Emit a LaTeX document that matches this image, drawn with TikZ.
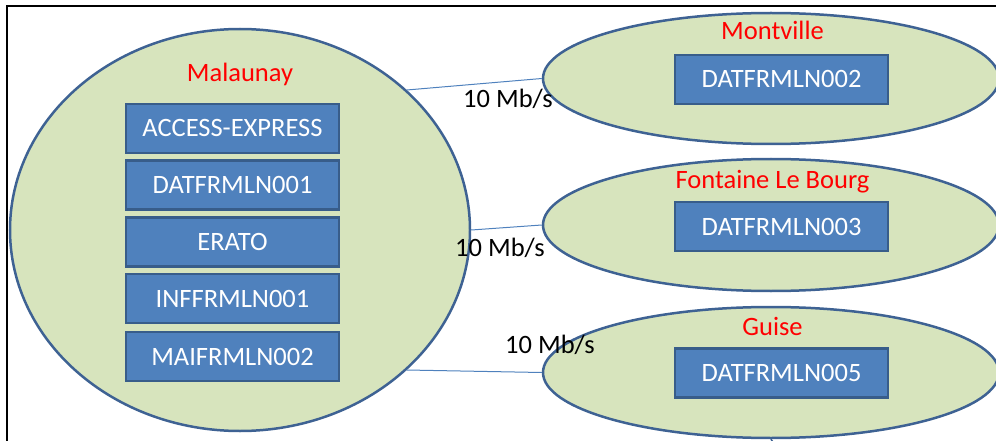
\documentclass[tikz,border=0pt]{standalone}
\usepackage{fontspec}
\setmainfont{Carlito}
\usetikzlibrary{shapes.geometric}
\definecolor{ellfill}{HTML}{D7E4BD}
\definecolor{ellborder}{HTML}{3E6293}
\definecolor{boxfill}{HTML}{4F81BD}
\definecolor{boxborder}{HTML}{385D8A}
\definecolor{linkcol}{HTML}{4F81BD}
\tikzset{
  site/.style={ellipse, draw=ellborder, fill=ellfill, line width=2.5pt, inner sep=0pt},
  srv/.style={rectangle, draw=boxborder, fill=boxfill, line width=2.2pt, inner sep=0pt,
    minimum width=213pt, minimum height=49pt, text=white,
    font=\fontsize{26.5}{31}\selectfont, text height=17pt, text depth=0pt},
  title/.style={anchor=base, text=red, inner sep=0pt, font=\fontsize{26.5}{31}\selectfont},
  rate/.style={anchor=base, text=black, inner sep=0pt, font=\fontsize{26.5}{31}\selectfont},
  link/.style={draw=linkcol, line width=1pt}
}
\begin{document}
\begin{tikzpicture}[x=1pt,y=-1pt]
\useasboundingbox (0,0) rectangle (996,441);
% frame
\draw[line width=2.5pt] (7,442) -- (7,6) -- (997,6);
% sites
\node[site, minimum width=460pt, minimum height=402pt] (mal) at (240,230) {};
\node[site, minimum width=456pt, minimum height=131pt] (mon) at (771,78.5) {};
\node[site, minimum width=456pt, minimum height=132pt] (fon) at (771,225) {};
\node[site, minimum width=456pt, minimum height=131pt] (gui) at (771,372.5) {};
% links
\draw[link] (mal.40.7) -- (mon.180);
\draw[link] (mal.0.8) -- (fon.180);
\draw[link] (mal.-40.7) -- (gui.180);
\coordinate (gstub) at (773,442);
\draw[draw=ellborder, line width=1.5pt] (gui.south) -- (gstub);
% titles
\node[title] (tmal) at (240,82) {Malaunay};
\node[title] (tmon) at (772.5,40) {Montville};
\node[title] (tfon) at (772.5,188) {Fontaine Le Bourg};
\node[title] (tgui) at (772.5,335) {Guise};
% servers
\node[srv] (s1) at (232.5,128.5) {ACCESS-EXPRESS};
\node[srv] (s2) at (232.5,185) {DATFRMLN001};
\node[srv] (s3) at (232.5,242) {ERATO};
\node[srv] (s4) at (232.5,298.5) {INFFRMLN001};
\node[srv] (s5) at (232.5,356.5) {MAIFRMLN002};
\node[srv] (r1) at (781.5,79.5) {DATFRMLN002};
\node[srv] (r2) at (781.5,226.5) {DATFRMLN003};
\node[srv] (r3) at (781.5,373) {DATFRMLN005};
% rates
\node[rate] (l1) at (508,108) {10 Mb/s};
\node[rate] (l2) at (500,256) {10 Mb/s};
\node[rate] (l3) at (550,353) {10 Mb/s};
\end{tikzpicture}
\end{document}
